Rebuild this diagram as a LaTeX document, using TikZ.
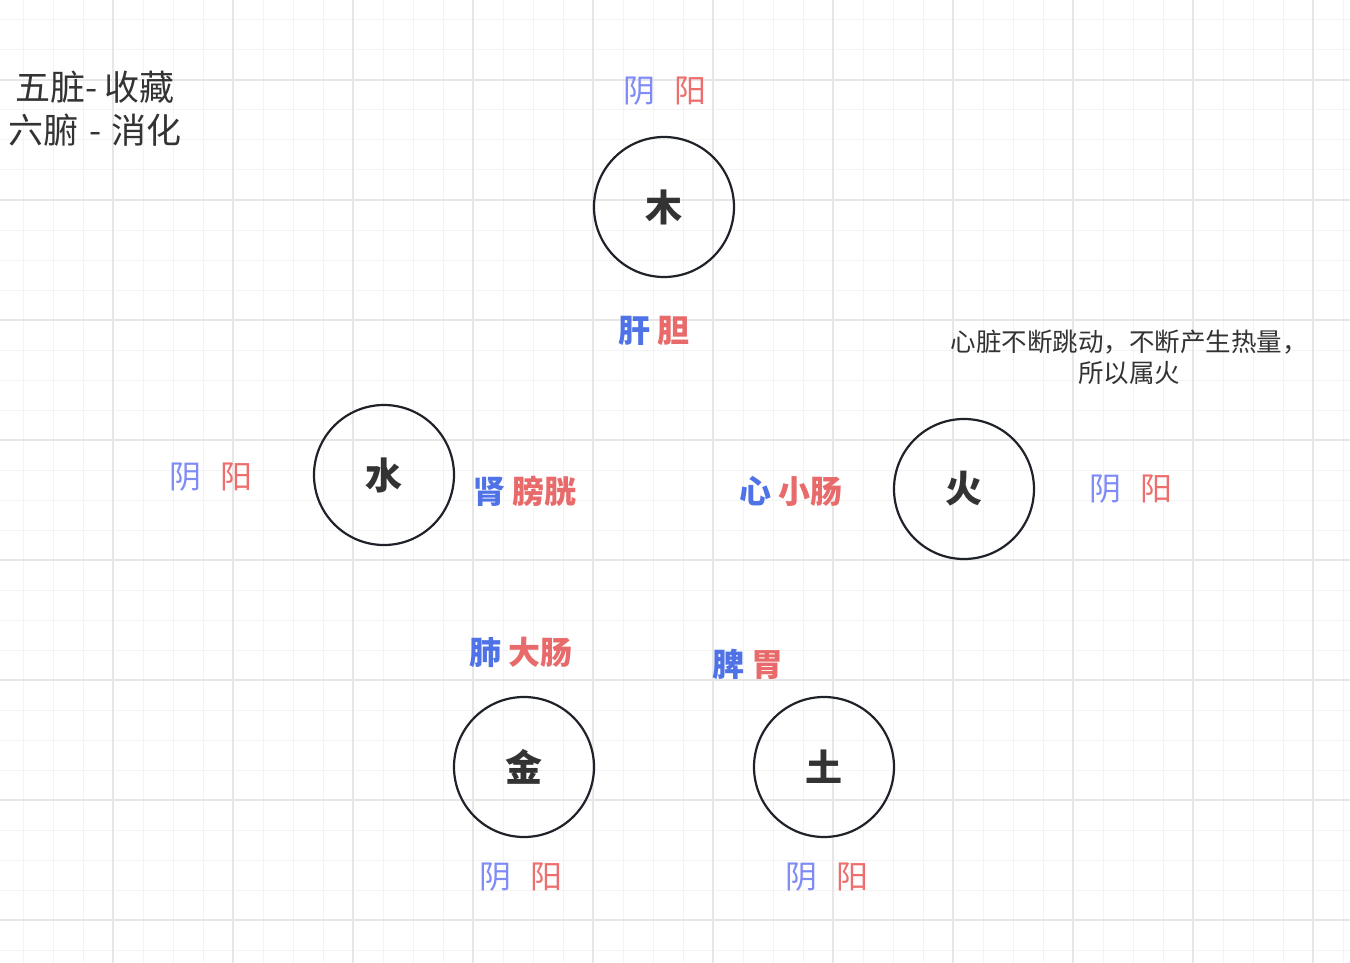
\documentclass[tikz,border=0pt]{standalone}
\usepackage{fontspec}
\setmainfont{Noto Sans CJK SC}
\usepackage{tikz}
\definecolor{gridminor}{HTML}{F3F3F3}
\definecolor{gridmajor}{HTML}{E6E6E6}
\definecolor{yin}{HTML}{7F8CF5}
\definecolor{yang}{HTML}{EE6E6E}
\definecolor{yinbold}{HTML}{4F72E6}
\definecolor{yangbold}{HTML}{E86A6A}
\definecolor{ink}{HTML}{333333}
\definecolor{rim}{HTML}{1F2329}
\newcommand{\yinyang}{{\color{yin}阴}\hspace{19pt}{\color{yang}阳}}
\newcommand{\organs}[2]{{\color{yinbold}#1} {\color{yangbold}#2}}
\tikzset{
	element/.style={circle, draw=rim, line width=2.2pt, minimum size=140pt, inner sep=0pt, outer sep=0pt, text=ink, font=\fontsize{37}{40}\selectfont\bfseries},
	pairlabel/.style={inner sep=0pt, font=\fontsize{32}{36}\selectfont},
	organlabel/.style={inner sep=0pt, font=\fontsize{32}{36}\selectfont\bfseries},
	note/.style={inner sep=0pt, align=center, text=ink}
}

\begin{document}
\begin{tikzpicture}[x=1pt, y=-1pt]
		%%%%% START %%%%%
		
		\useasboundingbox[fill=white] (0, 0) rectangle (1350, 963);
		
		% grid
		\foreach \x in {23,53,...,1350} \draw[gridminor, line width=1pt] (\x, 0) -- (\x, 963);
		\foreach \y in {20,50,...,963} \draw[gridminor, line width=1pt] (0, \y) -- (1350, \y);
		\foreach \x in {113,233,...,1350} \draw[gridmajor, line width=1.3pt] (\x, 0) -- (\x, 963);
		\foreach \y in {80,200,...,963} \draw[gridmajor, line width=1.3pt] (0, \y) -- (1350, \y);
		
		\node[note, font=\fontsize{35}{43}\selectfont] (title) at (95, 109) {五脏- 收藏\\六腑\hspace{4pt} - \hspace{2pt}消化};
		
		\node[element] (wood) at (664, 207) {木};
		\node[element] (water) at (384, 475) {水};
		\node[element] (fire) at (964, 489) {火};
		\node[element] (metal) at (524, 767) {金};
		\node[element] (earth) at (824, 767) {土};
		
		\node[pairlabel] (woodyy) at (664.5, 91) {\yinyang};
		\node[pairlabel] (wateryy) at (211, 477) {\yinyang};
		\node[pairlabel] (fireyy) at (1131, 489) {\yinyang};
		\node[pairlabel] (metalyy) at (521, 877) {\yinyang};
		\node[pairlabel] (earthyy) at (827, 877) {\yinyang};
		
		\node[organlabel] (liver) at (654, 331) {\organs{肝}{胆}};
		\node[organlabel] (kidney) at (525, 491) {\organs{肾}{膀胱}};
		\node[organlabel] (heart) at (791, 491) {\organs{心}{小肠}};
		\node[organlabel] (lung) at (521, 652) {\organs{肺}{大肠}};
		\node[organlabel] (spleen) at (748, 664) {\organs{脾}{胃}};
		
		\node[note, font=\fontsize{25.5}{31}\selectfont] (heartnote) at (1129, 357) {心脏不断跳动，不断产生热量，\\所以属火};
		
		%%%%% END %%%%%
	\end{tikzpicture}
\end{document}
